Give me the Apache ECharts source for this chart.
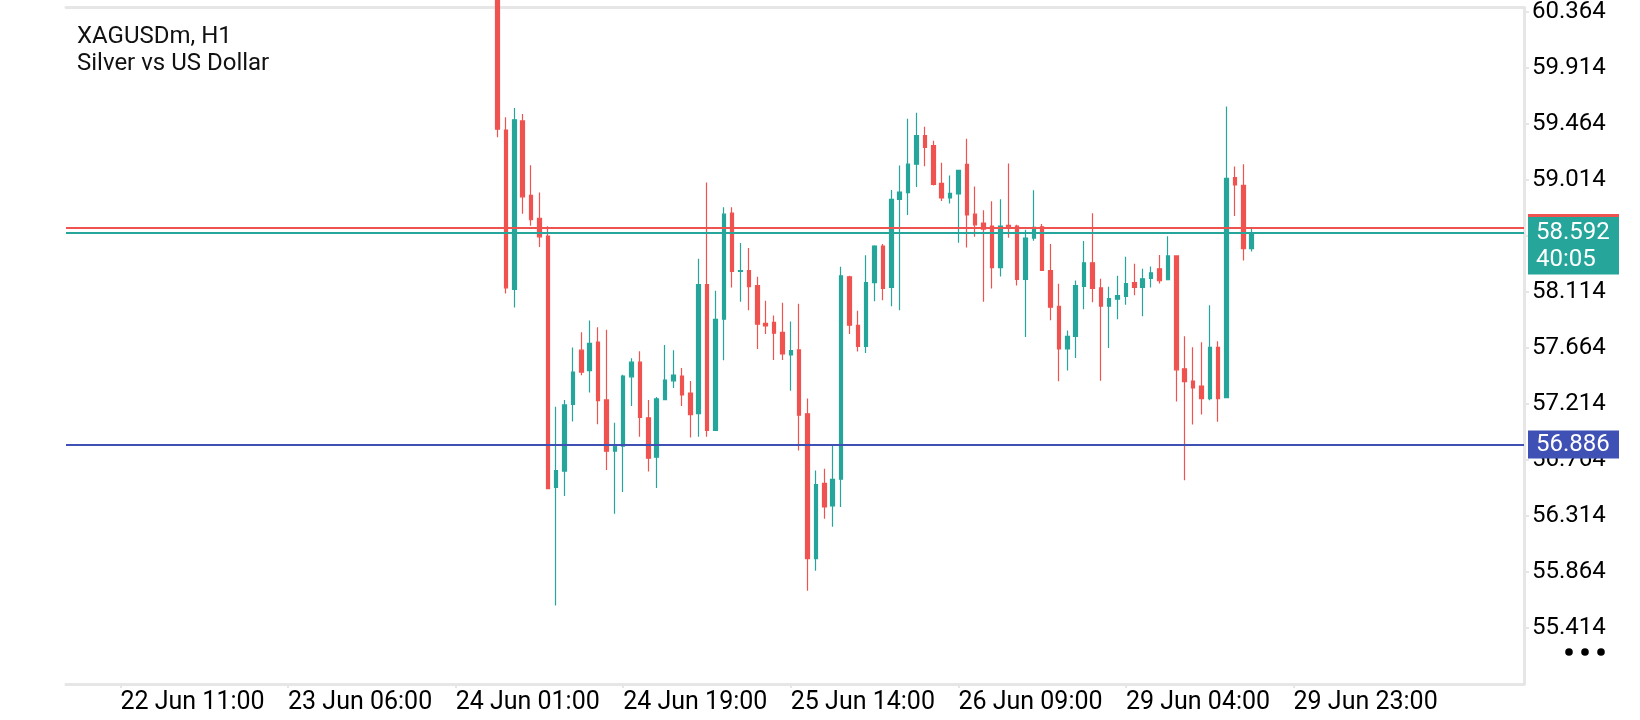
<!DOCTYPE html>
<html>
<head>
<meta charset="utf-8">
<title>XAGUSDm, H1</title>
<script src="https://cdn.jsdelivr.net/npm/echarts@6/dist/echarts.min.js"></script>
<style>
html, body { margin: 0; padding: 0; background: #fff; }
#chart { width: 1640px; height: 720px; }
</style>
</head>
<body>
<div id="chart"></div>
<script>
var symbolName = 'XAGUSDm, H1';
var symbolDesc = 'Silver vs US Dollar';

// 174 slots on the time axis, the loaded bars start at slot 51
var barCount = 174;
var firstBar = 51;

var opens = [60.62, 59.416, 58.136, 59.489, 58.890, 58.707, 58.564, 56.545, 56.676, 57.211,
    57.647, 57.483, 57.712, 57.247, 56.836, 56.875, 57.433, 57.551, 57.104, 56.787,
    57.250, 57.401, 57.439, 57.303, 57.138, 58.173, 57.002, 57.896, 58.748, 58.279,
    58.287, 58.165, 57.862, 57.870, 57.790, 57.609, 57.649, 57.136, 55.973, 56.577,
    56.396, 56.611, 58.237, 57.846, 57.678, 58.189, 58.484, 58.151, 58.859, 58.913,
    59.141, 59.370, 59.290, 58.987, 58.870, 58.902, 59.139, 58.740, 58.668, 58.644,
    58.311, 58.650, 58.644, 58.215, 58.548, 58.638, 58.287, 58.000, 57.657, 57.758,
    58.159, 58.349, 58.147, 58.000, 58.056, 58.080, 58.189, 58.151, 58.223, 58.301,
    58.213, 58.404, 57.497, 57.399, 57.359, 57.258, 57.670, 57.266, 59.033, 58.971,
    58.463];
var closes = [59.422, 58.148, 59.498, 58.879, 58.695, 58.558, 56.535, 56.679, 57.207, 57.471,
    57.471, 57.702, 57.241, 56.835, 56.875, 57.439, 57.551, 57.106, 56.779, 57.255,
    57.407, 57.447, 57.287, 57.130, 58.173, 57.002, 57.894, 58.740, 58.279, 58.287,
    58.157, 57.856, 57.842, 57.784, 57.617, 57.644, 57.125, 55.973, 56.567, 56.388,
    56.609, 58.245, 57.848, 57.678, 58.189, 58.484, 58.143, 58.859, 58.918, 59.141,
    59.370, 59.277, 58.979, 58.870, 58.907, 59.091, 58.734, 58.654, 58.620, 58.311,
    58.644, 58.638, 58.215, 58.548, 58.634, 58.287, 57.992, 57.657, 57.758, 58.165,
    58.349, 58.143, 58.000, 58.061, 58.085, 58.181, 58.151, 58.221, 58.269, 58.205,
    58.404, 57.489, 57.395, 57.343, 57.258, 57.670, 57.258, 59.027, 58.974, 58.463,
    58.592];
var lows = [59.357, 58.102, 57.989, 58.744, 58.646, 58.475, 56.529, 55.595, 56.475, 57.073,
    57.446, 57.306, 57.052, 56.685, 56.332, 56.507, 57.199, 56.952, 56.673, 56.539,
    57.247, 57.343, 57.199, 56.946, 56.952, 56.952, 57.000, 57.566, 58.151, 58.037,
    57.968, 57.657, 57.776, 57.569, 57.569, 57.321, 56.840, 55.715, 55.875, 56.292,
    56.228, 56.388, 57.776, 57.636, 57.625, 58.040, 58.048, 58.000, 57.968, 58.734,
    58.958, 59.125, 58.971, 58.846, 58.825, 58.511, 58.471, 58.558, 58.037, 58.143,
    58.239, 58.550, 58.167, 57.752, 58.527, 58.285, 57.888, 57.397, 57.484, 57.585,
    57.976, 58.032, 57.401, 57.665, 57.896, 58.011, 58.088, 57.920, 58.151, 58.183,
    58.210, 57.234, 56.601, 57.050, 57.130, 57.245, 57.072, 57.262, 58.726, 58.367,
    58.439];
var highs = [60.70, 59.519, 59.593, 59.544, 59.132, 58.914, 58.643, 57.192, 57.247, 57.669,
    57.791, 57.886, 57.831, 57.812, 57.064, 57.449, 57.582, 57.638, 57.247, 57.271,
    57.689, 57.646, 57.503, 57.399, 58.381, 58.995, 58.125, 58.796, 58.796, 58.508,
    58.468, 58.237, 58.044, 57.926, 58.029, 57.878, 58.021, 57.258, 56.681, 56.694,
    56.886, 58.317, 58.245, 57.963, 58.410, 58.490, 58.500, 58.934, 59.131, 59.506,
    59.554, 59.442, 59.330, 59.152, 59.051, 59.095, 59.346, 58.963, 58.772, 58.843,
    58.859, 59.147, 58.654, 58.614, 58.931, 58.660, 58.500, 58.181, 57.806, 58.207,
    58.524, 58.748, 58.221, 58.157, 58.245, 58.397, 58.341, 58.301, 58.319, 58.412,
    58.562, 58.408, 57.758, 57.670, 57.710, 58.008, 57.718, 59.604, 59.123, 59.141,
    58.636];

var tickLabels = ['22 Jun 11:00', '23 Jun 06:00', '24 Jun 01:00', '24 Jun 19:00',
    '25 Jun 14:00', '26 Jun 09:00', '29 Jun 04:00', '29 Jun 23:00'];
var tickBars = [6, 26, 46, 66, 86, 106, 126, 146];
var priceTicks = [55.414, 55.864, 56.314, 56.764, 57.214, 57.664, 58.114, 58.564,
    59.014, 59.464, 59.914, 60.364];

var yMin = 54.965;
var yMax = 60.400;
var bid = 58.592;
var ask = 58.626;
var level = 56.886;
var timer = '40:05';

var upColor = '#26a69a';
var downColor = '#ef5350';
var levelColor = '#3f51b5';
var frameColor = '#e6e6e6';

var categories = [];
for (var i = 0; i < barCount; i++) categories.push(String(i));

var candles = [];
for (var k = 0; k < opens.length; k++) {
    candles.push([firstBar + k, opens[k], closes[k], lows[k], highs[k]]);
}

function isTickBar(index) {
    return tickBars.indexOf(index) >= 0;
}

var option = {
    animation: false,
    backgroundColor: '#fff',
    grid: { left: 66, right: 116, top: 3, bottom: 36 },
    xAxis: [
        {
            type: 'category',
            data: categories,
            boundaryGap: true,
            axisLine: { show: true, onZero: false, lineStyle: { color: frameColor, width: 3 } },
            axisTick: {
                show: true, alignWithLabel: true, interval: isTickBar, length: 4,
                lineStyle: { color: frameColor, width: 2 }
            },
            axisLabel: {
                interval: isTickBar,
                align: 'left',
                margin: 6,
                color: '#000',
                fontSize: 25,
                fontFamily: 'Roboto',
                formatter: function (value, index) {
                    return tickLabels[tickBars.indexOf(index)];
                }
            },
            splitLine: { show: false }
        },
        {
            type: 'category',
            data: categories,
            position: 'top',
            axisLine: { show: true, onZero: false, lineStyle: { color: frameColor, width: 3 } },
            axisTick: { show: false },
            axisLabel: { show: false },
            splitLine: { show: false }
        }
    ],
    yAxis: {
        type: 'value',
        position: 'right',
        min: yMin,
        max: yMax,
        axisLine: { show: true, lineStyle: { color: frameColor, width: 3 } },
        axisTick: {
            show: true, length: 5, customValues: priceTicks,
            lineStyle: { color: frameColor, width: 2 }
        },
        axisLabel: {
            customValues: priceTicks,
            margin: 8,
            color: '#000',
            fontSize: 24,
            fontFamily: 'Roboto',
            formatter: function (v) { return v.toFixed(3); }
        },
        splitLine: { show: false }
    },
    series: [
        {
            name: symbolName,
            type: 'candlestick',
            data: candles,
            encode: { x: 0, y: [1, 2, 3, 4] },
            barWidth: 4,
            clip: true,
            itemStyle: {
                color: upColor,
                color0: downColor,
                borderColor: upColor,
                borderColor0: downColor,
                borderWidth: 1.2
            },
            markLine: {
                silent: true,
                symbol: 'none',
                label: { show: false },
                data: [
                    { yAxis: ask, lineStyle: { color: downColor, width: 2, type: 'solid' } },
                    { yAxis: bid, lineStyle: { color: upColor, width: 2, type: 'solid' } },
                    { yAxis: level, lineStyle: { color: levelColor, width: 2, type: 'solid' } }
                ]
            }
        }
    ]
};

var chart = echarts.init(document.getElementById('chart'));
chart.setOption(option);

var bidY = chart.convertToPixel({ yAxisIndex: 0 }, bid);
var levelY = chart.convertToPixel({ yAxisIndex: 0 }, level);
var labelX = 1528;

chart.setOption({
    graphic: [
        {
            type: 'text', left: 77, top: 23, z: 10,
            style: {
                text: symbolName + '\n' + symbolDesc,
                font: '24px Roboto', lineHeight: 27, fill: '#111'
            }
        },
        {
            type: 'rect', z: 20,
            shape: { x: labelX, y: bidY - 18.5, width: 91, height: 3 },
            style: { fill: downColor }
        },
        {
            type: 'rect', z: 20,
            shape: { x: labelX, y: bidY - 15.5, width: 91, height: 57.5 },
            style: { fill: upColor }
        },
        {
            type: 'text', z: 21, x: labelX + 8, y: bidY - 13.5,
            style: {
                text: bid.toFixed(3) + '\n' + timer,
                font: '24px Roboto', lineHeight: 27, fill: '#fff'
            }
        },
        {
            type: 'rect', z: 20,
            shape: { x: labelX, y: levelY - 14.5, width: 91, height: 28 },
            style: { fill: levelColor }
        },
        {
            type: 'text', z: 21, x: labelX + 8, y: levelY,
            style: {
                text: level.toFixed(3),
                font: '24px Roboto', fill: '#fff', verticalAlign: 'middle'
            }
        },
        { type: 'circle', shape: { cx: 1569, cy: 652, r: 3.8 }, style: { fill: '#000' } },
        { type: 'circle', shape: { cx: 1585, cy: 652, r: 3.8 }, style: { fill: '#000' } },
        { type: 'circle', shape: { cx: 1601, cy: 652, r: 3.8 }, style: { fill: '#000' } }
    ]
});
</script>
</body>
</html>
